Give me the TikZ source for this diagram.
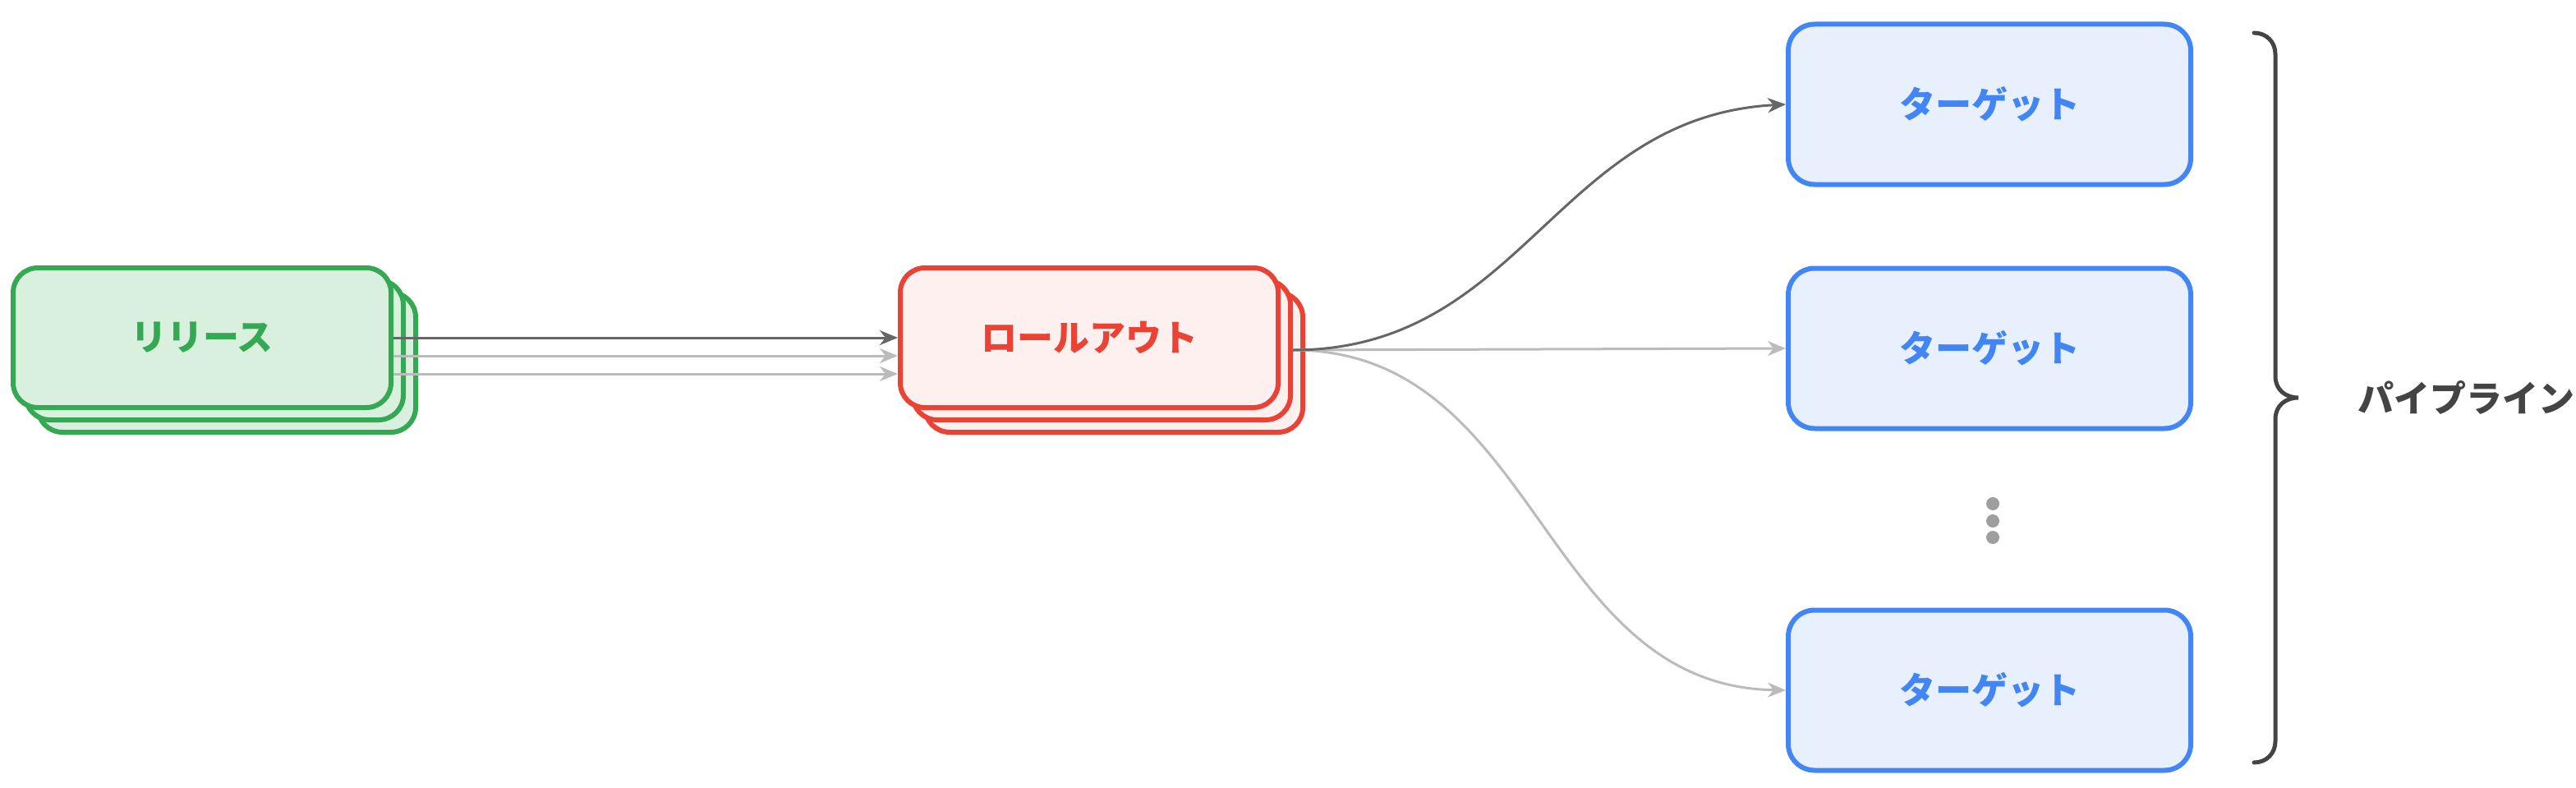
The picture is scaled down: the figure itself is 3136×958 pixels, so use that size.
\documentclass[tikz,border=0pt]{standalone}
\usepackage{fontspec}
\newfontfamily\jp{Noto Sans CJK JP}
\usetikzlibrary{arrows.meta,calc}
\definecolor{gstroke}{HTML}{34A853}
\definecolor{gfill}{HTML}{D9F0DF}
\definecolor{rstroke}{HTML}{EA4335}
\definecolor{rfill}{HTML}{FEF0EE}
\definecolor{bstroke}{HTML}{4285F4}
\definecolor{bfill}{HTML}{E8F0FE}
\definecolor{darkarrow}{HTML}{666666}
\definecolor{lightarrow}{HTML}{BBBBBB}
\definecolor{bracecol}{HTML}{444444}
\definecolor{dotcol}{HTML}{9E9E9E}
\tikzset{
  card/.style={rectangle, rounded corners=30pt, line width=6pt, inner sep=0pt,
    minimum width=460pt, minimum height=170pt,
    font=\jp\bfseries\fontsize{44}{52}\selectfont},
  greencard/.style={card, draw=gstroke, fill=gfill, text=gstroke},
  redcard/.style={card, draw=rstroke, fill=rfill, text=rstroke},
  targetcard/.style={card, draw=bstroke, fill=bfill, text=bstroke,
    rounded corners=32pt, minimum width=490pt, minimum height=195pt},
  darkflow/.style={draw=darkarrow, line width=3pt, -{Stealth[length=22pt,width=18pt,inset=7pt]}},
  lightflow/.style={draw=lightarrow, line width=3pt, -{Stealth[length=22pt,width=18pt,inset=7pt]}},
  ellipsisdot/.style={circle, fill=dotcol, inner sep=0pt, minimum size=16pt},
  bracelabel/.style={text=bracecol, font=\jp\bfseries\fontsize{44}{52}\selectfont, inner sep=0pt}
}
\begin{document}
\begin{tikzpicture}[x=1pt,y=-1pt]
\useasboundingbox (0,0) rectangle (3136,958);
% release stack
\node[greencard] (greenC) at (276,441) {};
\node[greencard] (greenB) at (261,426) {};
\node[greencard] (green) at (246,411) {リリース};
% rollout stack
\node[redcard] (redC) at (1356,441) {};
\node[redcard] (redB) at (1341,426) {};
\node[redcard] (red) at (1326,411) {ロールアウト};
% targets
\node[targetcard] (t1) at (2422,127) {ターゲット};
\node[targetcard] (t2) at (2422,424) {ターゲット};
\node[targetcard] (t3) at (2422,840) {ターゲット};
% dots
\node[ellipsisdot] (d1) at (2426,613) {};
\node[ellipsisdot] (d2) at (2426,634) {};
\node[ellipsisdot] (d3) at (2426,654) {};
% release -> rollout
\draw[darkflow] (green.east) -- (red.west);
\draw[lightflow] ([yshift=-22pt]green.east) -- ([yshift=-22pt]red.west);
\draw[lightflow] ([yshift=-44pt]green.east) -- ([yshift=-44pt]red.west);
% rollout -> targets
\draw[lightflow] (redB.east) -- (t2.west);
\draw[lightflow] (redB.east) .. controls ($(redB.east)+(300,0)$) and ($(t3.west)+(-300,-5)$) .. (t3.west);
\draw[darkflow] (redB.east) .. controls ($(redB.east)+(280,0)$) and ($(t1.west)+(-280,15)$) .. (t1.west);
% brace
\coordinate (bt) at (2744,40);
\coordinate (bb) at (2744,928);
\coordinate (btip) at (2798,484);
\draw[bracecol, line width=5pt, line cap=round]
  (bt) .. controls (2759,40) and (2770,51) .. (2770,66)
  -- (2770,458) .. controls (2770,474) and (2782,484) .. (btip)
  .. controls (2782,484) and (2770,494) .. (2770,510)
  -- (2770,902) .. controls (2770,917) and (2759,928) .. (bb);
\node[bracelabel] (label) at (3002,484) {パイプライン};
\end{tikzpicture}
\end{document}
